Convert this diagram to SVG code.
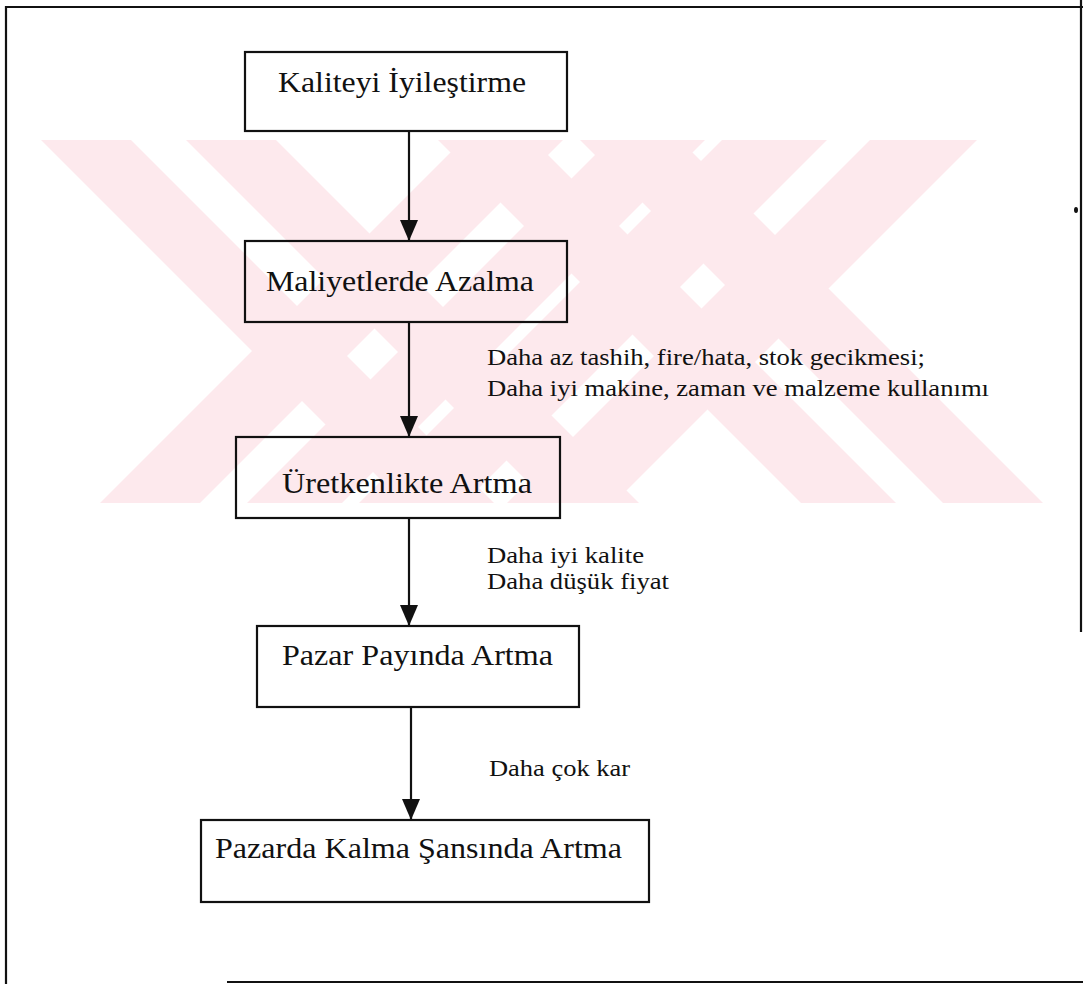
<svg xmlns="http://www.w3.org/2000/svg" width="1083" height="984" viewBox="0 0 1083 984">
<defs>
<style>
.box{fill:none;stroke:#111;stroke-width:2.2}
.frame{stroke:#111;stroke-width:2.2;fill:none}
.conn{stroke:#111;stroke-width:2.2}
.t{font-family:"Liberation Serif","Times New Roman",serif;font-size:29px;fill:#111}
.l{font-family:"Liberation Serif","Times New Roman",serif;font-size:24px;fill:#111}
.wm{fill:#fde9ed}
</style>
<marker id="ah" markerWidth="21" markerHeight="18" refX="21" refY="9" orient="auto" markerUnits="userSpaceOnUse" viewBox="0 0 21 18">
<path d="M0,0 L21,9 L0,18 Z" fill="#111"/>
</marker>
<clipPath id="wmclip"><rect x="0" y="140" width="1083" height="363"/></clipPath>
</defs>
<rect width="1083" height="984" fill="#fff"/>
<g id="watermark" clip-path="url(#wmclip)">
<polygon class="wm" points="41,140 131,140 494,503 404,503"/>
<polygon class="wm" points="186,140 276,140 639,503 549,503"/>
<polygon class="wm" points="463,140 563,140 200,503 100,503"/>
<polygon class="wm" points="610,140 705,140 342,503 247,503"/>
<polygon class="wm" points="438,140 533,140 896,503 801,503"/>
<polygon class="wm" points="580,140 680,140 1043,503 943,503"/>
<polygon class="wm" points="722,140 827,140 464,503 359,503"/>
<polygon class="wm" points="870,140 977,140 614,503 507,503"/>
</g>
<g id="frame">
<path class="frame" d="M6,984 L6,7 L1083,7"/>
<path class="frame" d="M1081,0 L1081,632"/>
<path class="frame" d="M227,982 L1083,982"/>
<ellipse cx="1076" cy="210" rx="2" ry="3" fill="#111"/>
</g>
<g id="connectors">
<line class="conn" x1="409" y1="131" x2="409" y2="241" marker-end="url(#ah)"/>
<line class="conn" x1="409" y1="322" x2="409" y2="437" marker-end="url(#ah)"/>
<line class="conn" x1="409" y1="518" x2="409" y2="626" marker-end="url(#ah)"/>
<line class="conn" x1="411" y1="707" x2="411" y2="820" marker-end="url(#ah)"/>
<text class="l" x="487" y="365" textLength="438" lengthAdjust="spacingAndGlyphs">Daha az tashih, fire/hata, stok gecikmesi;</text>
<text class="l" x="487" y="396" textLength="502" lengthAdjust="spacingAndGlyphs">Daha iyi makine, zaman ve malzeme kullanımı</text>
<text class="l" x="487" y="563" textLength="157" lengthAdjust="spacingAndGlyphs">Daha iyi kalite</text>
<text class="l" x="487" y="589" textLength="182" lengthAdjust="spacingAndGlyphs">Daha düşük fiyat</text>
<text class="l" x="489" y="776" textLength="141" lengthAdjust="spacingAndGlyphs">Daha çok kar</text>
</g>
<g id="n1">
<rect class="box" x="245" y="52" width="322" height="79"/>
<text class="t" x="278" y="92" textLength="248" lengthAdjust="spacingAndGlyphs">Kaliteyi İyileştirme</text>
</g>
<g id="n2">
<rect class="box" x="245" y="241" width="322" height="81"/>
<text class="t" x="266" y="291" textLength="268" lengthAdjust="spacingAndGlyphs">Maliyetlerde Azalma</text>
</g>
<g id="n3">
<rect class="box" x="236" y="437" width="324" height="81"/>
<text class="t" x="282" y="493" textLength="250" lengthAdjust="spacingAndGlyphs">Üretkenlikte Artma</text>
</g>
<g id="n4">
<rect class="box" x="257" y="626" width="322" height="81"/>
<text class="t" x="282" y="665" textLength="271" lengthAdjust="spacingAndGlyphs">Pazar Payında Artma</text>
</g>
<g id="n5">
<rect class="box" x="201" y="820" width="448" height="82"/>
<text class="t" x="215" y="858" textLength="407" lengthAdjust="spacingAndGlyphs">Pazarda Kalma Şansında Artma</text>
</g>
</svg>
